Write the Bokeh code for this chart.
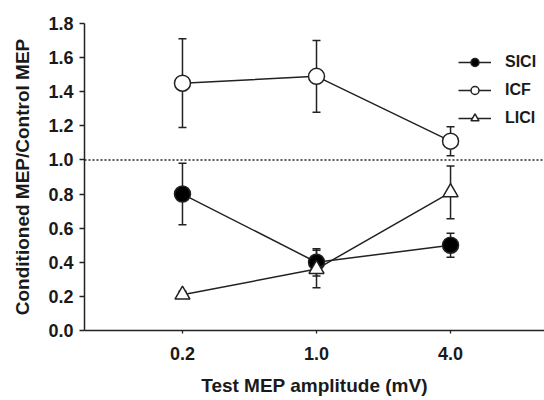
from bokeh.plotting import figure
from bokeh.models import (Range1d, FixedTicker, Span, Whisker, TeeHead,
                          ColumnDataSource, Legend, LegendItem, PrintfTickFormatter)
from bokeh.embed import file_html
from bokeh.resources import INLINE

# ---- data ----
amplitudes = ["0.2", "1.0", "4.0"]
sici = [0.80, 0.40, 0.50]
sici_err = [0.18, 0.08, 0.07]
icf = [1.45, 1.49, 1.11]
icf_err = [0.26, 0.21, 0.085]
lici = [0.21, 0.36, 0.81]
lici_err = [0.02, 0.11, 0.155]
y_ticks = [0.0, 0.2, 0.4, 0.6, 0.8, 1.0, 1.2, 1.4, 1.6, 1.8]
reference_level = 1.0

FONT = "Liberation Sans"
xpos = [i + 1 for i in range(len(amplitudes))]

p = figure(width=544, height=400, output_backend="svg", toolbar_location=None,
           x_range=Range1d(0.269, 3.701), y_range=Range1d(0, 1.8),
           min_border_left=84, min_border_right=0, min_border_top=23,
           min_border_bottom=70)
p.outline_line_color = None
p.xgrid.visible = False
p.ygrid.visible = False
p.background_fill_color = "white"
p.border_fill_color = "white"

# axes
for ax in (p.xaxis[0], p.yaxis[0]):
    ax.axis_line_color = "#222222"
    ax.axis_line_width = 1.5
    ax.major_tick_line_color = "#222222"
    ax.major_tick_line_width = 1.3
    ax.major_tick_in = 0
    ax.minor_tick_line_color = None
    ax.major_label_text_font = FONT
    ax.major_label_text_font_style = "bold"
    ax.major_label_text_font_size = "18px"
    ax.major_label_text_color = "#1a1a1a"
    ax.axis_label_text_font = FONT
    ax.axis_label_text_font_style = "bold"
    ax.axis_label_text_font_size = "19px"
    ax.axis_label_text_color = "#1a1a1a"

p.yaxis.ticker = FixedTicker(ticks=y_ticks)
p.yaxis.formatter = PrintfTickFormatter(format="%.1f")
p.yaxis.major_tick_out = 5
p.yaxis.major_label_standoff = 6
p.yaxis.axis_label = "Conditioned MEP/Control MEP"
p.yaxis.axis_label_standoff = 12

p.xaxis.ticker = FixedTicker(ticks=xpos)
p.xaxis.major_label_overrides = {x: lab for x, lab in zip(xpos, amplitudes)}
p.xaxis.major_tick_out = 3
p.xaxis.major_label_standoff = 13
p.xaxis.axis_label = "Test MEP amplitude (mV)"
p.xaxis.axis_label_standoff = 12

# reference line
p.add_layout(Span(location=reference_level, dimension="width",
                  line_color="#222222", line_width=1.5, line_dash="2 2"))

series = [
    ("SICI", sici, sici_err, "circle", "black"),
    ("ICF", icf, icf_err, "circle", "white"),
    ("LICI", lici, lici_err, "triangle", "white"),
]

items = []
for name, vals, errs, marker, fill in series:
    src = ColumnDataSource(dict(
        x=xpos, y=vals,
        upper=[v + e for v, e in zip(vals, errs)],
        lower=[v - e for v, e in zip(vals, errs)],
    ))
    w = Whisker(source=src, base="x", upper="upper", lower="lower",
                line_color="#222222", line_width=1.5,
                upper_head=TeeHead(size=8, line_color="#222222", line_width=1.5),
                lower_head=TeeHead(size=8, line_color="#222222", line_width=1.5))
    p.add_layout(w)
    ln = p.line("x", "y", source=src, line_color="#222222", line_width=1.5)
    sz = 16 if marker == "circle" else 15
    mk = p.scatter("x", "y", source=src, marker=marker, size=sz,
                   fill_color=fill, line_color="#222222", line_width=1.5)
    items.append(LegendItem(label=name, renderers=[ln, mk]))

legend = Legend(items=items, location=(374, 202), glyph_width=33,
                glyph_height=20, label_height=20, spacing=8, padding=0,
                margin=0, label_standoff=14, border_line_color=None,
                background_fill_alpha=0,
                label_text_font=FONT, label_text_font_style="bold",
                label_text_font_size="16px", label_text_color="#1a1a1a")
p.add_layout(legend, "center")

open("out.html", "w").write(file_html(p, INLINE))
